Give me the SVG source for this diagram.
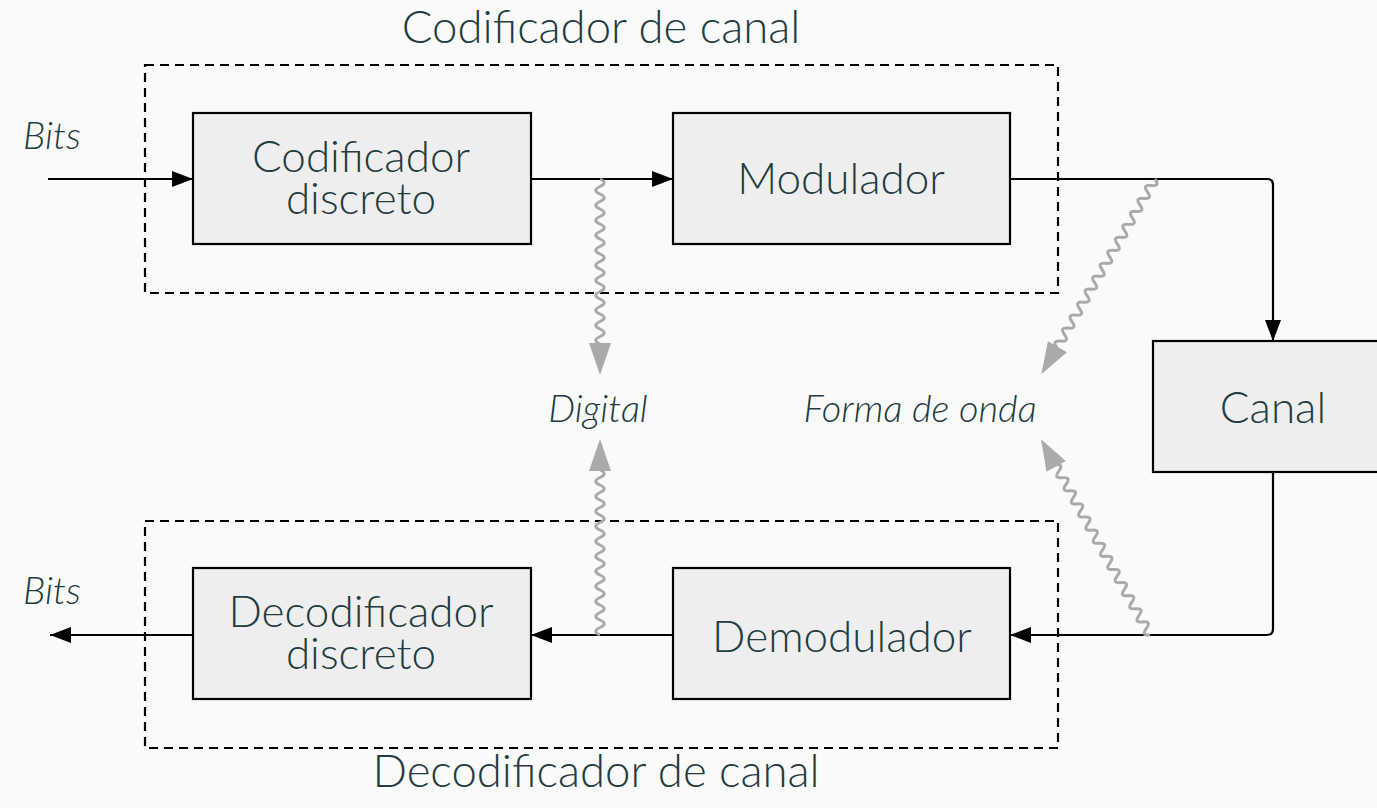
<svg xmlns="http://www.w3.org/2000/svg" width="1377" height="808" viewBox="0 0 1377 808">
<defs>
<style>
.bg{fill:#fafafa}
.box{fill:#eeeeee;stroke:#000;stroke-width:2.2}
.dash{fill:none;stroke:#000;stroke-width:2.2;stroke-dasharray:9 6}
.t{font-family:Lato,"Open Sans",sans-serif;font-weight:300;font-size:44px;fill:#233c40;text-anchor:middle}
.h{font-size:45.5px}
.i{font-style:italic;font-size:38px}
.wire{fill:none;stroke:#000;stroke-width:2.2}
.wave{fill:none;stroke:#aaaaaa;stroke-width:3}
.ghead{fill:#aaaaaa}
</style>
<marker id="ah" markerWidth="22" markerHeight="16" refX="21" refY="8" orient="auto" markerUnits="userSpaceOnUse">
<path d="M0 0 L21 8 L0 16 Z" fill="#000"/>
</marker>
<path id="w22" d="M0 0 q3.75 -8.5 7.5 0 t7.5 0 t7.5 0 t7.5 0 t7.5 0 t7.5 0 t7.5 0 t7.5 0 t7.5 0 t7.5 0 t7.5 0 t7.5 0 t7.5 0 t7.5 0 t7.5 0 t7.5 0 t7.5 0 t7.5 0 t7.5 0 t7.5 0 t7.5 0 t7.5 0"/>
<path id="w26" d="M0 0 q3.75 -8.5 7.5 0 t7.5 0 t7.5 0 t7.5 0 t7.5 0 t7.5 0 t7.5 0 t7.5 0 t7.5 0 t7.5 0 t7.5 0 t7.5 0 t7.5 0 t7.5 0 t7.5 0 t7.5 0 t7.5 0 t7.5 0 t7.5 0 t7.5 0 t7.5 0 t7.5 0 t7.5 0 t7.5 0 t7.5 0 t7.5 0"/>
</defs>
<rect class="bg" x="0" y="0" width="1377" height="808"/>

<g id="codificador-canal">
<rect class="dash" x="145" y="65" width="913" height="228"/>
<text class="t h" x="601" y="43">Codificador de canal</text>
</g>
<g id="decodificador-canal">
<rect class="dash" x="145" y="521" width="913" height="227"/>
<text class="t h" x="596" y="787">Decodificador de canal</text>
</g>

<g id="connectors">
<line class="wire" x1="48" y1="179" x2="193" y2="179" marker-end="url(#ah)"/>
<line class="wire" x1="531" y1="179" x2="673" y2="179" marker-end="url(#ah)"/>
<path class="wire" d="M1010 179 H1267 Q1273 179 1273 185 V341" marker-end="url(#ah)"/>
<path class="wire" d="M1273 471 V629 Q1273 635 1267 635 H1010" marker-end="url(#ah)"/>
<line class="wire" x1="673" y1="635" x2="531" y2="635" marker-end="url(#ah)"/>
<line class="wire" x1="193" y1="635" x2="50" y2="635" marker-end="url(#ah)"/>
<g transform="translate(600 179) rotate(90)">
<use href="#w22" class="wave"/>
<path class="ghead" d="M164 -11 L196 0 L164 11 Z"/>
</g>
<g transform="translate(600 635) rotate(-90)">
<use href="#w22" class="wave"/>
<path class="ghead" d="M164 -11 L196 0 L164 11 Z"/>
</g>
<g transform="translate(1155 179) rotate(120.2)">
<use href="#w26" class="wave"/>
<path class="ghead" d="M194 -11 L226 0 L194 11 Z"/>
</g>
<g transform="translate(1150 635) rotate(-119.1)">
<use href="#w26" class="wave"/>
<path class="ghead" d="M193 -11 L224 0 L193 11 Z"/>
</g>
</g>

<g id="codificador-discreto">
<rect class="box" x="193" y="113" width="338" height="131"/>
<text class="t"><tspan x="361" y="172">Codificador</tspan><tspan x="361" y="214">discreto</tspan></text>
</g>
<g id="modulador">
<rect class="box" x="673" y="113" width="337" height="131"/>
<text class="t" x="841" y="194">Modulador</text>
</g>
<g id="canal">
<rect class="box" x="1153" y="341" width="240" height="131"/>
<text class="t" x="1273" y="423">Canal</text>
</g>
<g id="demodulador">
<rect class="box" x="673" y="568" width="337" height="131"/>
<text class="t" x="842" y="652">Demodulador</text>
</g>
<g id="decodificador-discreto">
<rect class="box" x="193" y="568" width="338" height="131"/>
<text class="t"><tspan x="361" y="627">Decodificador</tspan><tspan x="361" y="669">discreto</tspan></text>
</g>

<g id="labels">
<text class="t i" x="52" y="149">Bits</text>
<text class="t i" x="52" y="604">Bits</text>
<text class="t i" x="598" y="422">Digital</text>
<text class="t i" x="920" y="422">Forma de onda</text>
</g>
</svg>
